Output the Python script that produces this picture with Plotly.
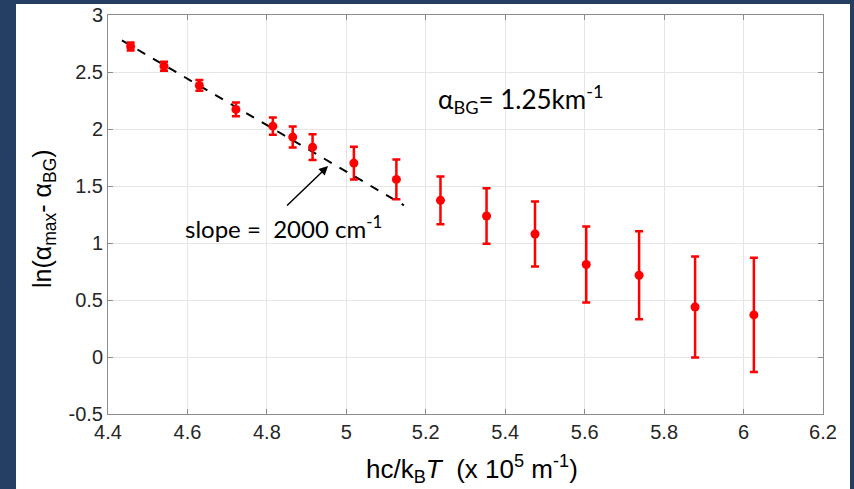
import plotly.graph_objects as go

# data
x_vals = [4.457, 4.541, 4.630, 4.722, 4.815, 4.865, 4.915, 5.019, 5.126,
          5.237, 5.353, 5.475, 5.604, 5.737, 5.878, 6.026]
y_vals = [2.724, 2.551, 2.382, 2.172, 2.025, 1.929, 1.841, 1.701, 1.558,
          1.374, 1.237, 1.079, 0.811, 0.717, 0.439, 0.369]
y_err = [0.035, 0.040, 0.047, 0.061, 0.075, 0.092, 0.112, 0.143, 0.174,
         0.209, 0.243, 0.285, 0.333, 0.386, 0.443, 0.501]

fit_x = [4.435, 5.145]
fit_y = [2.777, 1.331]

x_ticks = [4.4, 4.6, 4.8, 5.0, 5.2, 5.4, 5.6, 5.8, 6.0, 6.2]
x_tick_labels = ["4.4", "4.6", "4.8", "5", "5.2", "5.4", "5.6", "5.8", "6", "6.2"]
y_ticks = [-0.5, 0, 0.5, 1, 1.5, 2, 2.5, 3]
y_tick_labels = ["-0.5", "0", "0.5", "1", "1.5", "2", "2.5", "3"]

navy = "#253F63"
red = "#FF0000"
axis_col = "#8C8C8C"
tick_font = dict(family="Liberation Sans, Arial", size=20, color="#262626")

fig = go.Figure()

fig.add_trace(go.Scatter(
    x=fit_x, y=fit_y, mode="lines",
    line=dict(color="black", width=2, dash="dash"),
    showlegend=False, hoverinfo="skip",
))

fig.add_trace(go.Scatter(
    x=x_vals, y=y_vals, mode="markers",
    marker=dict(color=red, size=9),
    error_y=dict(type="data", array=y_err, visible=True,
                 color=red, thickness=2.5, width=4),
    showlegend=False,
))

W, H = 854, 489
ml, mr, mt, mb = 108, 31, 15, 75
pw = W - ml - mr
ph = H - mt - mb


def px_x(p):
    return (p - ml) / pw


def px_y(p):
    return (H - mb - p) / ph


fig.add_shape(type="rect", xref="paper", yref="paper",
              x0=px_x(16), x1=px_x(850), y0=px_y(495), y1=px_y(4),
              fillcolor="white", line=dict(width=0), layer="below")

fig.add_annotation(
    x=4.954, y=1.675, ax=4.847, ay=1.316, xref="x", yref="y",
    axref="x", ayref="y", text="", showarrow=True,
    arrowhead=2, arrowsize=1.2, arrowwidth=1.5, arrowcolor="black",
)

fig.add_annotation(
    x=4.588, y=1.14, xref="x", yref="y", xanchor="left", yanchor="middle",
    text="slope =  2000 cm<sup>-1</sup>", showarrow=False,
    font=dict(family="Lato", size=24, color="black"),
)

fig.add_annotation(
    x=5.226, y=2.26, xref="x", yref="y", xanchor="left", yanchor="middle",
    text="α<sub>BG</sub>= 1.25km<sup>-1</sup>", showarrow=False,
    font=dict(family="Lato", size=26, color="black"),
)

fig.add_annotation(
    x=px_x(44), y=px_y(219), xref="paper", yref="paper",
    xanchor="center", yanchor="middle", textangle=-90,
    text="ln(α<sub>max</sub>- α<sub>BG</sub>)", showarrow=False,
    font=dict(family="Liberation Sans, Arial", size=25, color="black"),
)

fig.add_annotation(
    x=px_x(472), y=px_y(469), xref="paper", yref="paper",
    xanchor="center", yanchor="middle",
    text="hc/k<sub>B</sub><i>T</i>  (x 10<sup>5</sup> m<sup>-1</sup>)",
    showarrow=False,
    font=dict(family="Liberation Sans, Arial", size=26, color="black"),
)

axis_common = dict(
    showline=True, linecolor=axis_col, linewidth=1, mirror="ticks",
    ticks="inside", ticklen=5, tickcolor=axis_col, tickwidth=1,
    showgrid=True, gridcolor="#E6E6E6", gridwidth=1,
    zeroline=False, tickfont=tick_font,
)

fig.update_xaxes(range=[4.4, 6.2], tickvals=x_ticks, ticktext=x_tick_labels,
                 **axis_common)
fig.update_yaxes(range=[-0.5, 3], tickvals=y_ticks, ticktext=y_tick_labels,
                 **axis_common)

fig.update_layout(
    width=W, height=H,
    margin=dict(l=ml, r=mr, t=mt, b=mb, autoexpand=False),
    paper_bgcolor=navy, plot_bgcolor="white",
)

fig.write_html(
    "out.html",
    config={"displayModeBar": False},
    post_script="document.body.style.margin='0';document.body.style.background='%s';" % navy,
)
